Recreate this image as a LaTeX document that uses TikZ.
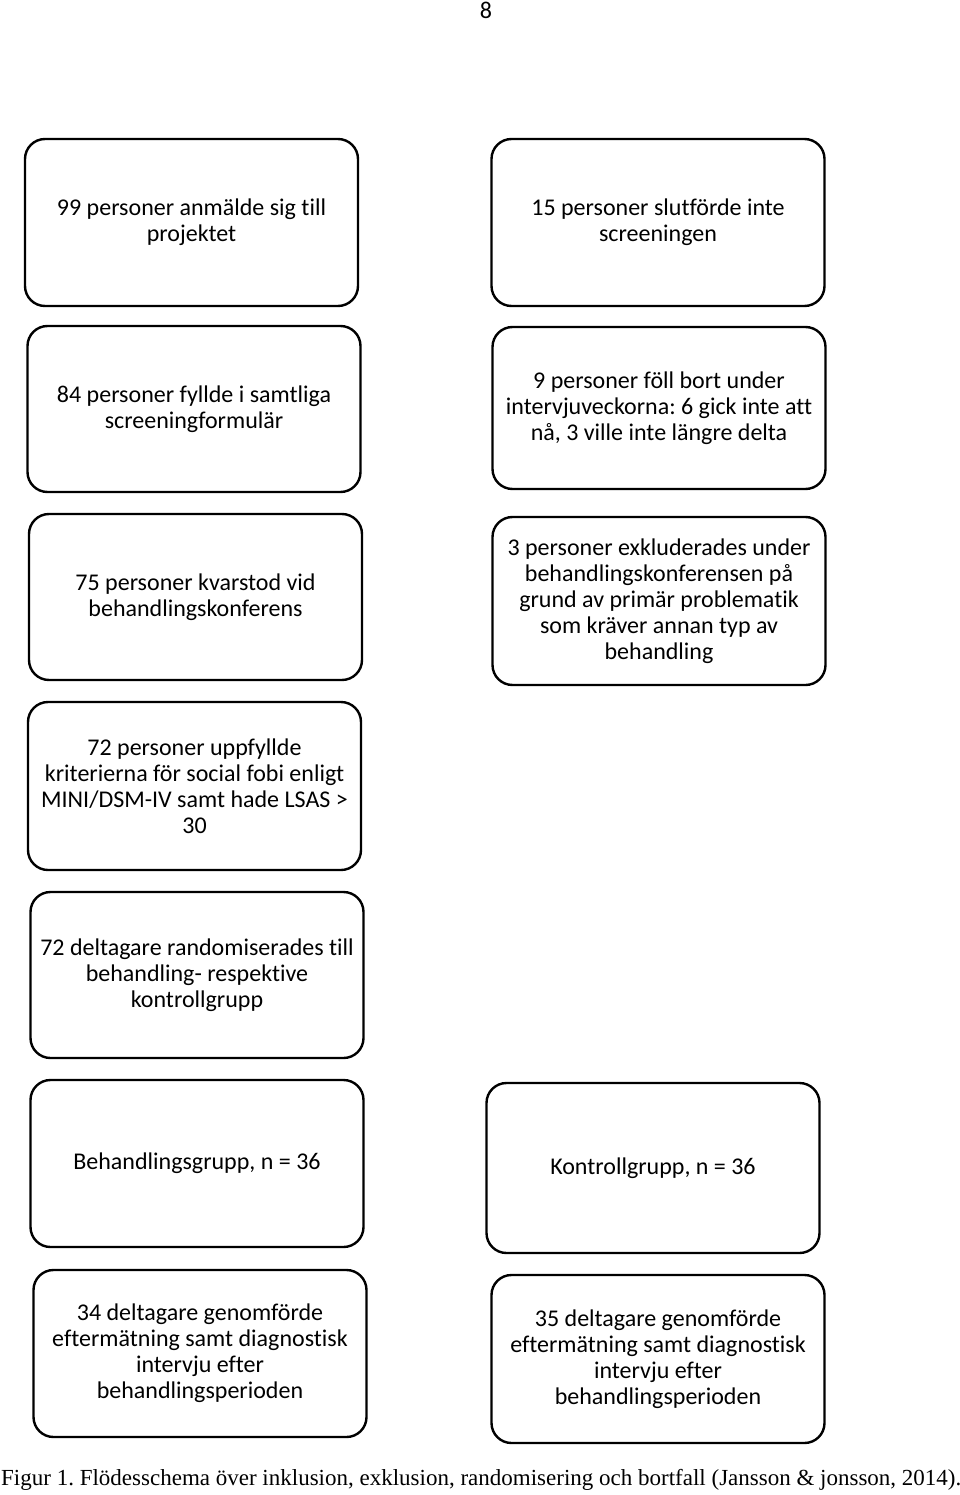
\documentclass[tikz,border=0pt]{standalone}
\usepackage{fontspec}
\setmainfont{Carlito}[RawFeature=-liga]
\newfontfamily\capfont{Liberation Serif}
\frenchspacing
\begin{document}
\begin{tikzpicture}[x=1pt,y=-1pt,
  flowbox/.style={draw=black, line width=2.4pt, rounded corners=20pt,
    minimum width=#1, minimum height=167pt, align=center, inner sep=0pt,
    font=\fontsize{24}{26}\selectfont},
  flowbox/.default=333pt]
\useasboundingbox[fill=white] (0,0) rectangle (960,1495);
\node[font=\fontsize{24}{26}\selectfont] (pagenum) at (486,10) {8};
% left column
\node[flowbox] (l1) at (191.5,222.5) {99 personer anmälde sig till\\projektet};
\node[flowbox, minimum height=166pt] (l2) at (194,409) {84 personer fyllde i samtliga\\screeningformulär};
\node[flowbox, minimum height=166pt] (l3) at (195.5,597) {75 personer kvarstod vid\\behandlingskonferens};
\node[flowbox, minimum height=168pt] (l4) at (194.5,786) {72 personer uppfyllde\\kriterierna för social fobi enligt\\MINI/DSM-IV samt hade LSAS >\\30};
\node[flowbox, minimum height=166pt] (l5) at (197,975) {72 deltagare randomiserades till\\behandling- respektive\\kontrollgrupp};
\node[flowbox] (l6) at (197,1163.5) {Behandlingsgrupp, n = 36};
\node[flowbox] (l7) at (200,1353.5) {34 deltagare genomförde\\eftermätning samt diagnostisk\\intervju efter\\behandlingsperioden};
% right column
\node[flowbox] (r1) at (658,222.5) {15 personer slutförde inte\\screeningen};
\node[flowbox, minimum height=162pt] (r2) at (659,408) {9 personer föll bort under\\intervjuveckorna: 6 gick inte att\\nå, 3 ville inte längre delta};
\node[flowbox, minimum height=168pt] (r3) at (659,601) {3 personer exkluderades under\\behandlingskonferensen på\\grund av primär problematik\\som kräver annan typ av\\behandling};
\node[flowbox, minimum height=170pt] (r6) at (653,1168) {Kontrollgrupp, n = 36};
\node[flowbox, minimum height=168pt] (r7) at (658,1359) {35 deltagare genomförde\\eftermätning samt diagnostisk\\intervju efter\\behandlingsperioden};
% caption
\node[font=\capfont\fontsize{23}{24}\selectfont, anchor=west, inner sep=0pt] (caption) at (1,1480) {Figur 1. Flödesschema över inklusion, exklusion, randomisering och bortfall (Jansson \& jonsson, 2014).};
\end{tikzpicture}
\end{document}
